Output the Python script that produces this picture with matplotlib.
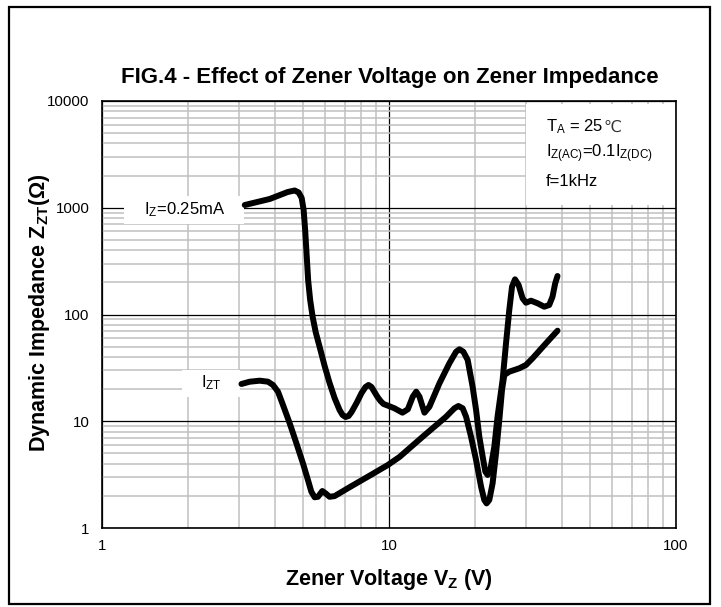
import matplotlib
matplotlib.use("Agg")
import matplotlib.pyplot as plt
from matplotlib.patches import Rectangle
from matplotlib.ticker import LogLocator, FixedLocator, FixedFormatter, NullFormatter

plt.rcParams['font.family'] = ['Liberation Sans', 'DejaVu Sans']
plt.rcParams['mathtext.fontset'] = 'custom'
plt.rcParams['mathtext.rm'] = 'Liberation Sans'
plt.rcParams['mathtext.it'] = 'Liberation Sans:italic'
plt.rcParams['mathtext.bf'] = 'Liberation Sans:bold'

# ---- data ----
vz_low = [3.144, 3.840, 4.436, 4.692, 4.844, 4.963, 5.042, 5.103, 5.165, 5.227, 5.312,
          5.420, 5.552, 5.733, 5.967, 6.209, 6.463, 6.727, 6.890, 7.058, 7.230, 7.405,
          7.709, 8.024, 8.283, 8.484, 8.690, 8.903, 9.120, 9.342, 9.570, 9.881, 10.45,
          11.14, 11.63, 12.10, 12.44, 12.77, 13.29, 13.83, 14.99, 16.23, 17.13, 17.59,
          18.16, 18.80, 19.56, 20.11, 20.64, 21.20, 21.66, 22.07, 22.54, 23.28, 23.89,
          24.88, 25.57, 26.25, 26.83, 27.48, 28.29, 29.21, 30.01, 31.24, 32.94, 34.74,
          36.16, 37.13, 37.94, 38.65]
zz_low = [1061, 1208, 1404, 1451, 1390, 1234, 952, 619, 361, 210, 137,
          94.8, 68.6, 49.6, 32.9, 22.8, 16.5, 12.75, 11.44, 10.96, 11.20, 12.20,
          14.83, 18.39, 20.94, 21.86, 20.94, 18.79, 16.88, 15.48, 14.51, 14.05, 13.22,
          12.03, 12.94, 16.98, 18.92, 16.98, 12.03, 13.69, 22.68, 34.9, 44.8, 47.2,
          44.8, 37.5, 21.07, 12.75, 7.17, 4.66, 3.37, 3.14, 3.49, 5.78, 11.03,
          24.34, 53.7, 110.3, 182.1, 213.6, 188.9, 141.8, 129.0, 134.7, 127.3, 118.3,
          122.7, 146.8, 196.0, 229.4]

vz_zt = [3.062, 3.272, 3.544, 3.788, 3.943, 4.104, 4.272, 4.508, 4.757, 5.013, 5.218,
         5.362, 5.507, 5.654, 5.857, 6.014, 6.209, 6.463, 7.289, 8.555, 9.904, 10.88,
         13.11, 15.81, 16.90, 17.45, 18.06, 18.56, 19.31, 20.11, 20.93, 21.48, 21.88,
         22.36, 22.96, 23.60, 24.23, 24.76, 25.22, 26.25, 28.44, 30.01, 31.64, 35.24,
         38.65]
zz_zt = [22.34, 23.47, 23.99, 23.47, 21.86, 18.92, 14.20, 9.57, 6.22, 4.04, 2.82,
         2.19, 1.94, 1.96, 2.22, 2.11, 1.96, 1.99, 2.41, 3.09, 3.89, 4.63,
         7.17, 11.03, 13.22, 13.90, 13.22, 11.03, 7.17, 4.34, 2.44, 1.83, 1.70,
         1.83, 2.62, 5.01, 10.27, 19.62, 27.12, 29.12, 31.33, 33.65, 38.89, 53.73,
         70.5]

x_ticks = [1, 10, 100]
x_tick_labels = ['1', '10', '100']
y_ticks = [1, 10, 100, 1000, 10000]
y_tick_labels = ['1', '10', '100', '1000', '10000']

title = 'FIG.4 - Effect of Zener Voltage on Zener Impedance'
xlabel = r'Zener Voltage V$_\mathbf{Z}$ (V)'
ylabel = r'Dynamic Impedance Z$_\mathbf{ZT}$($\mathbf{\Omega}$)'

fig = plt.figure(figsize=(7.21, 6.07), dpi=100)
# outer frame
fig.patches.append(Rectangle((9/721, 1-604/607), 701/721, 597/607, transform=fig.transFigure,
                             fill=False, edgecolor='black', lw=1.6, zorder=0))

ax = fig.add_axes([102/721, 1-528/607, 574/721, 427/607])
ax.set_xscale('log')
ax.set_yscale('log')
ax.set_xlim(1, 100)
ax.set_ylim(1, 10000)

ax.xaxis.set_major_locator(FixedLocator(x_ticks))
ax.xaxis.set_major_formatter(FixedFormatter(x_tick_labels))
ax.yaxis.set_major_locator(FixedLocator(y_ticks))
ax.yaxis.set_major_formatter(FixedFormatter(y_tick_labels))
ax.xaxis.set_minor_locator(LogLocator(base=10, subs=range(2, 10)))
ax.yaxis.set_minor_locator(LogLocator(base=10, subs=range(2, 10)))
ax.xaxis.set_minor_formatter(NullFormatter())
ax.yaxis.set_minor_formatter(NullFormatter())

ax.grid(which='minor', color='#c0c0c0', lw=1.1, zorder=0)
ax.grid(which='major', color='black', lw=0.9, zorder=0.5)
ax.set_axisbelow(True)
ax.tick_params(which='both', length=0)
ax.tick_params(axis='y', pad=9, labelsize=10.8)
ax.tick_params(axis='x', pad=8, labelsize=10.8)
for s in ax.spines.values():
    s.set_linewidth(1.2)

# white label boxes
ax.add_patch(Rectangle((0.0383, 0.712), 0.209, 0.0655, transform=ax.transAxes,
                       facecolor='white', edgecolor='none', zorder=1))
ax.add_patch(Rectangle((0.139, 0.3068), 0.101, 0.063, transform=ax.transAxes,
                       facecolor='white', edgecolor='none', zorder=1))
ax.add_patch(Rectangle((0.7387, 0.7564), 0.2595, 0.2366, transform=ax.transAxes,
                       facecolor='white', edgecolor='none', zorder=1))

ax.plot(vz_low, zz_low, color='black', lw=4.3, solid_joinstyle='round',
        solid_capstyle='round', zorder=3)
ax.plot(vz_zt, zz_zt, color='black', lw=4.3, solid_joinstyle='round',
        solid_capstyle='round', zorder=3)

ax.text((185-102)/574, (528-210)/427, r'I$_\mathrm{Z}$=0.25mA', transform=ax.transAxes,
        ha='center', va='center', fontsize=12, zorder=4)
ax.text((211-102)/574, (528-383)/427, r'I$_\mathrm{ZT}$', transform=ax.transAxes,
        ha='center', va='center', fontsize=12, zorder=4)
t1 = ax.text((546-102)/574, (528-127)/427, r'T$_\mathrm{A}$ = 25', transform=ax.transAxes,
             ha='left', va='center', fontsize=12, zorder=4)
ax.annotate('\u2103', xy=(1.0, 0.5), xycoords=t1, xytext=(0.3, 0),
            textcoords='offset points', ha='left', va='center',
            fontsize=11.5, family='DejaVu Sans', color='#333333', zorder=4)
ax.text((546-102)/574, (528-154)/427, r'I$_\mathrm{Z(AC)}$=0.1I$_\mathrm{Z(DC)}$',
        transform=ax.transAxes, ha='left', va='center', fontsize=12, zorder=4)
ax.text((546-102)/574, (528-181)/427, 'f=1kHz', transform=ax.transAxes,
        ha='left', va='center', fontsize=12, zorder=4)

fig.text(390/721, 1-77/607, title, ha='center', va='center', fontsize=16, fontweight='bold')
fig.text(389/721, 1-579/607, xlabel, ha='center', va='center', fontsize=15.5, fontweight='bold')
fig.text(40/721, 1-313/607, ylabel, ha='center', va='center', fontsize=15.5, fontweight='bold',
         rotation=90)

fig.savefig('out.png', dpi=100)
